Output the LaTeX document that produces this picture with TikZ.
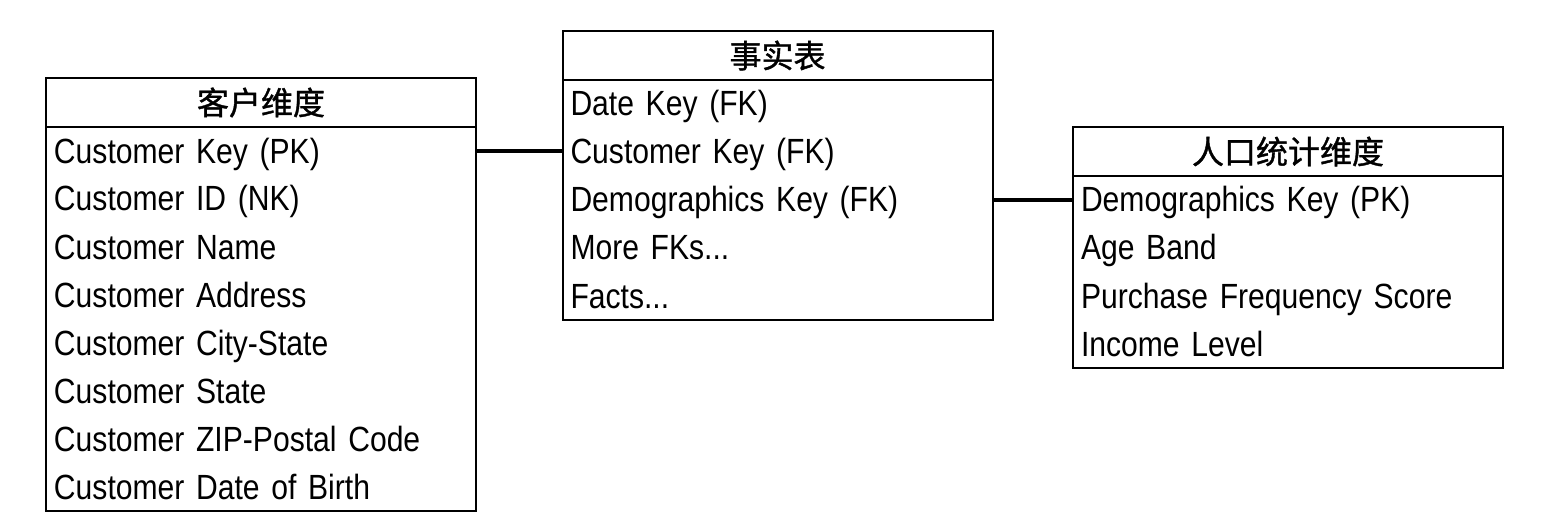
\documentclass[tikz,border=0pt]{standalone}
\usepackage{fontspec}
\setmainfont{Liberation Sans}[FakeStretch=0.86]
\newfontfamily\cjk{Noto Sans CJK SC}[FakeBold=1.2]
\usetikzlibrary{positioning}

\newcommand{\rowfont}{\fontsize{17.5}{20}\selectfont\spaceskip=3.6pt plus 1pt\relax}

\begin{document}
\begin{tikzpicture}[
			x=0.5pt, y=-0.5pt,
			node distance=0pt,
			table_title/.style={
				rectangle,
				draw=black,
				line width=1pt,
				outer sep=0pt,
				minimum width=215pt,
				minimum height=24.5pt,
				text centered,
				font=\cjk\fontsize{16}{18}\selectfont
			},
			table_row/.style={
				rectangle,
				draw=none,
				outer sep=0pt,
				text width=207pt,
				text height=15.5pt,
				text depth=3.5pt,
				inner xsep=4pt,
				inner ysep=0pt,
				minimum height=24pt,
				align=left,
				font=\rowfont
			},
			table_box/.style={
				draw=black,
				line width=1pt
			},
			line/.style={
				-,
				line width=1.6pt
			}
			]
			
			\useasboundingbox (0,0) rectangle (1544,524);
			
			% Customer dimension
			
			\node [table_title] at (261,102.5) (K0) {客户维度};
			\node [table_row, below=of K0] (K1) {Customer Key (PK)};
			\node [table_row, below=of K1] (K2) {Customer ID (NK)};
			\node [table_row, below=of K2] (K3) {Customer Name};
			\node [table_row, below=of K3] (K4) {Customer Address};
			\node [table_row, below=of K4] (K5) {Customer City-State};
			\node [table_row, below=of K5] (K6) {Customer State};
			\node [table_row, below=of K6] (K7) {Customer ZIP-Postal Code};
			\node [table_row, below=of K7] (K8) {Customer Date of Birth};
			\draw [table_box] (K1.north west) rectangle (K8.south east);
			
			% Fact table
			
			\node [table_title] at (777.5,55.5) (F0) {事实表};
			\node [table_row, below=of F0] (F1) {Date Key (FK)};
			\node [table_row, below=of F1] (F2) {Customer Key (FK)};
			\node [table_row, below=of F2] (F3) {Demographics Key (FK)};
			\node [table_row, below=of F3] (F4) {More FKs...};
			\node [table_row, below=of F4] (F5) {Facts...};
			\draw [table_box] (F1.north west) rectangle (F5.south east);
			
			% Demographics dimension
			
			\node [table_title] at (1288,151.5) (R0) {人口统计维度};
			\node [table_row, below=of R0] (R1) {Demographics Key (PK)};
			\node [table_row, below=of R1] (R2) {Age Band};
			\node [table_row, below=of R2] (R3) {Purchase Frequency Score};
			\node [table_row, below=of R3] (R4) {Income Level};
			\draw [table_box] (R1.north west) rectangle (R4.south east);
			
			% Connections
			
			\draw [line] (K1.east) -- (K1.east -| F2.west);
			\draw [line] (R1.west -| F3.east) -- (R1.west);
			
		\end{tikzpicture}
\end{document}
